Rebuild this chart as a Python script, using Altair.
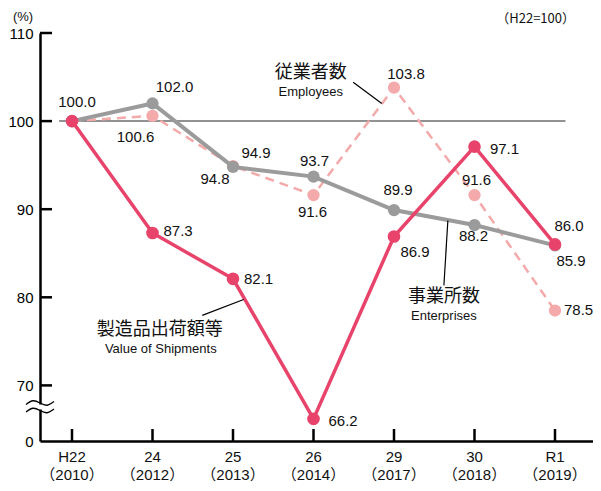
import altair as alt
import pandas as pd

# ---------------- data ----------------
categories = ["H22\n（2010）", "24\n（2012）", "25\n（2013）", "26\n（2014）",
              "29\n（2017）", "30\n（2018）", "R1\n（2019）"]
shipments = [100.0, 87.3, 82.1, 66.2, 86.9, 97.1, 86.0]
employees = [100.0, 100.6, 94.9, 91.6, 103.8, 91.6, 78.5]
enterprises = [100.0, 102.0, 94.8, 93.7, 89.9, 88.2, 85.9]
y_ticks = [70, 80, 90, 100, 110]
base_value = 100

# ---------------- layout / style ----------------
W, H = 553, 408
STEP = 80.5                      # px per category
X0 = 32                          # px from plot left to first category
XDOM = [-X0 / STEP, (W - X0) / STEP]
YMAX = 110
PXU = 8.81                       # px per unit on y
YMIN = YMAX - H / PXU            # position of the "0" baseline (broken axis)
YDOM = [YMIN, YMAX]
FONT = "Liberation Sans, Noto Sans CJK JP"
JFONT = "Noto Sans CJK JP"
C_SHIP = "#E8446B"
C_EMP = "#F4AAAA"
C_ENT = "#9B9B9B"


def xv(px):          # plot-pixel -> x data units (decorations only)
    return (px - X0) / STEP


def yv(py):          # plot-pixel -> y data units (decorations only)
    return YMAX - py / PXU


xs = alt.Scale(domain=XDOM, nice=False, zero=False)
ys = alt.Scale(domain=YDOM, nice=False, zero=False)
x_axis = alt.Axis(title=None, labels=False, ticks=False, grid=False,
                  domainColor="black", domainWidth=2.5)
y_axis = alt.Axis(title=None, values=[YMIN] + y_ticks,
                  labelExpr="datum.value < 65 ? '0' : datum.label",
                  ticks=False, tickSize=0, labelPadding=7, grid=False,
                  labelFontSize=15, labelFont=FONT, labelColor="black",
                  domainColor="black", domainWidth=2.5)


def X(f):
    return alt.X(f"{f}:Q", scale=xs, axis=x_axis)


def Y(f):
    return alt.Y(f"{f}:Q", scale=ys, axis=y_axis)


n = len(categories)
rows = []
for name, vals in [("ship", shipments), ("emp", employees), ("ent", enterprises)]:
    for i in range(n):
        rows.append({"s": name, "i": i, "v": vals[i], "t": f"{vals[i]:.1f}"})
long = pd.DataFrame(rows)
cat_df = pd.DataFrame({"i": list(range(n)), "cat": categories})
tick_df = pd.DataFrame({"v": y_ticks})

layers = []

# reference line at 100
layers.append(alt.Chart(pd.DataFrame({"i": [-0.16], "i2": [6.13], "v": [base_value]}))
              .mark_rule(color="#6E6E6E", strokeWidth=1.5)
              .encode(x=X("i"), x2="i2", y=Y("v")))

# y ticks (inward)
layers.append(alt.Chart(tick_df).mark_rule(color="black", strokeWidth=2.5)
              .encode(y=Y("v"), x=alt.value(0), x2=alt.value(12)))
# x ticks (inward)
layers.append(alt.Chart(cat_df).mark_rule(color="black", strokeWidth=2.5)
              .encode(x=X("i"), y=alt.value(H), y2=alt.value(H - 12)))

# axis break: white gap + two wavy strokes
layers.append(alt.Chart(pd.DataFrame({"v": [yv(371.5)], "v2": [yv(376.5)]}))
              .mark_rect(color="white")
              .encode(y=Y("v"), y2="v2", x=alt.value(-5), x2=alt.value(5)))
wave_dx = [-14, -7, 0, 7, 14]
wave_dy = [1.5, -2.2, 0, 2.2, -1.5]
wrows = []
for w, cy in enumerate([370.0, 377.5]):
    for k in range(5):
        wrows.append({"w": w, "k": k, "i": xv(wave_dx[k]), "v": yv(cy + wave_dy[k])})
layers.append(alt.Chart(pd.DataFrame(wrows))
              .mark_line(color="black", strokeWidth=1.4, interpolate="natural")
              .encode(x=X("i"), y=Y("v"), detail="w:N", order="k:Q"))

# series
emp = alt.Chart(long).transform_filter("datum.s == 'emp'")
layers.append(emp.mark_line(color=C_EMP, strokeWidth=2.5, strokeDash=[9, 6])
              .encode(x=X("i"), y=Y("v")))
layers.append(emp.mark_point(color=C_EMP, filled=True, opacity=1, size=150)
              .encode(x=X("i"), y=Y("v")))

ent = alt.Chart(long).transform_filter("datum.s == 'ent'")
layers.append(ent.mark_line(color=C_ENT, strokeWidth=4).encode(x=X("i"), y=Y("v")))
layers.append(ent.mark_point(color=C_ENT, filled=True, opacity=1, size=150)
              .encode(x=X("i"), y=Y("v")))

ship = alt.Chart(long).transform_filter("datum.s == 'ship'")
layers.append(ship.mark_line(color=C_SHIP, strokeWidth=3.5).encode(x=X("i"), y=Y("v")))
layers.append(ship.mark_point(color=C_SHIP, filled=True, opacity=1, size=160)
              .encode(x=X("i"), y=Y("v")))

# data labels: (series, index, dx, dy, align)
label_pos = [
    ("ship", 0, 5, -19, "center"),
    ("ent", 1, 22, -16, "center"),
    ("emp", 1, -17, 21, "center"),
    ("emp", 2, 23, -13, "center"),
    ("ent", 2, -18, 12, "center"),
    ("ent", 3, 1, -16, "center"),
    ("emp", 3, -1, 17, "center"),
    ("ent", 4, 4, -20, "center"),
    ("ship", 4, 21, 15, "center"),
    ("ship", 5, 30, 2, "center"),
    ("emp", 5, 2, -15, "center"),
    ("ent", 5, -1, 11, "center"),
    ("ship", 6, 14, -18, "center"),
    ("ent", 6, 16, 16, "center"),
    ("emp", 6, 9, -1, "left"),
    ("ship", 1, 11, -2, "left"),
    ("ship", 2, 11, 0, "left"),
    ("ship", 3, 15, 2, "left"),
    ("emp", 4, 12, -14, "center"),
]
for s, i, dx, dy, al in label_pos:
    layers.append(alt.Chart(long)
                  .transform_filter(f"datum.s == '{s}' && datum.i == {i}")
                  .mark_text(font=FONT, fontSize=15, color="#111", dx=dx, dy=dy,
                             align=al, baseline="middle")
                  .encode(x=X("i"), y=Y("v"), text="t:N"))

# x category labels
layers.append(alt.Chart(cat_df)
              .mark_text(font=FONT, fontSize=15, color="#111", lineBreak="\n",
                         lineHeight=18, baseline="alphabetic", align="center")
              .encode(x=X("i"), y=alt.value(H + 21), text="cat:N"))

# series annotations (positions in data units)
ann_text = pd.DataFrame({
    "i": [2.966, 2.966, 4.620, 4.620, 1.091, 1.103],
    "v": [105.5, 103.25, 80.0, 77.85, 76.25, 74.1],
    "t": ["従業者数", "Employees", "事業所数", "Enterprises", "製造品出荷額等", "Value of Shipments"],
    "k": ["j", "e", "j", "e", "j", "e"],
})
layers.append(alt.Chart(ann_text).transform_filter("datum.k == 'j'")
              .mark_text(font=JFONT, fontSize=18, color="#111", baseline="middle")
              .encode(x=X("i"), y=Y("v"), text="t:N"))
layers.append(alt.Chart(ann_text).transform_filter("datum.k == 'e'")
              .mark_text(font=FONT, fontSize=13, color="#111", baseline="middle")
              .encode(x=X("i"), y=Y("v"), text="t:N"))
leaders = pd.DataFrame({
    "i": [3.493, 4.669, 1.618],
    "i2": [3.848, 4.620, 2.132],
    "v": [104.4, 88.7, 77.95],
    "v2": [102.0, 81.35, 79.75],
})
layers.append(alt.Chart(leaders).mark_rule(color="black", strokeWidth=1.2)
              .encode(x=X("i"), x2="i2", y=Y("v"), y2="v2"))

# header texts
layers.append(alt.Chart(pd.DataFrame({"t": ["(%)"]}))
              .mark_text(font=FONT, fontSize=13, color="#111", baseline="middle")
              .encode(x=alt.value(-17), y=alt.value(-16), text="t:N"))
layers.append(alt.Chart(pd.DataFrame({"t": ["（H22=100）"]}))
              .mark_text(font=JFONT, fontSize=13, color="#111", baseline="middle", align="right")
              .encode(x=alt.value(535), y=alt.value(-14), text="t:N"))

chart = (alt.layer(*layers)
         .properties(width=W, height=H,
                     padding={"left": 32, "top": 25, "right": 0, "bottom": 42},
                     autosize=alt.AutoSizeParams(type="none"),
                     background="white")
         .configure_view(stroke=None))

chart.save("out.html", embed_options={"renderer": "svg", "actions": False})
